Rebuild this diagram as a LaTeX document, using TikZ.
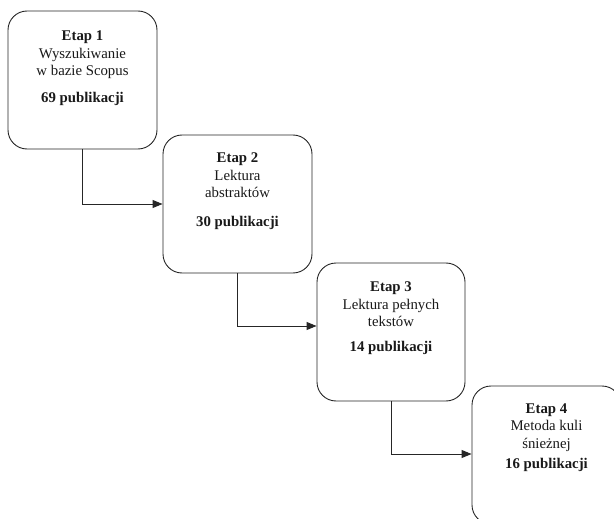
\documentclass[tikz,border=0pt]{standalone}
\usepackage{fontspec}
\setmainfont{Liberation Serif}
\usetikzlibrary{arrows.meta}
\begin{document}
\begin{tikzpicture}[x=1pt,y=-1pt,
  stagebox/.style={draw=black!85,line width=0.9pt,rounded corners=19pt,minimum width=149pt,minimum height=138pt,inner sep=0pt},
  stagetext/.style={anchor=north,align=center,inner sep=0pt,font=\fontsize{14.8}{17.5}\selectfont,text=black!90},
  conn/.style={draw=black!85,line width=0.9pt,-{Triangle[length=10pt,width=8pt]}}]
\useasboundingbox (0,0) rectangle (614,519);
\clip (0,0) rectangle (614,519);
\node[stagebox] (b1) at (82.5,80) {};
\node[stagebox] (b2) at (237.5,204) {};
\node[stagebox,minimum width=148pt] (b3) at (391,332) {};
\node[stagebox] (b4) at (546.5,455) {};
\node[stagetext] (t1) at ([yshift=-20pt]b1.north) {\textbf{Etap 1}\\Wyszukiwanie\\w bazie Scopus\\[9pt]\textbf{69 publikacji}};
\node[stagetext] (t2) at ([yshift=-18pt]b2.north) {\textbf{Etap 2}\\Lektura\\abstraktów\\[11pt]\textbf{30 publikacji}};
\node[stagetext] (t3) at ([yshift=-19pt]b3.north) {\textbf{Etap 3}\\Lektura pełnych\\tekstów\\[7pt]\textbf{14 publikacji}};
\node[stagetext] (t4) at ([yshift=-18pt]b4.north) {\textbf{Etap 4}\\Metoda kuli\\śnieżnej\\[3pt]\textbf{16 publikacji}};
\draw[conn] (b1.south) |- (b2.west);
\draw[conn] (b2.south) |- ([yshift=6pt]b3.west);
\draw[conn] (b3.south) |- ([yshift=1pt]b4.west);
\end{tikzpicture}
\end{document}
